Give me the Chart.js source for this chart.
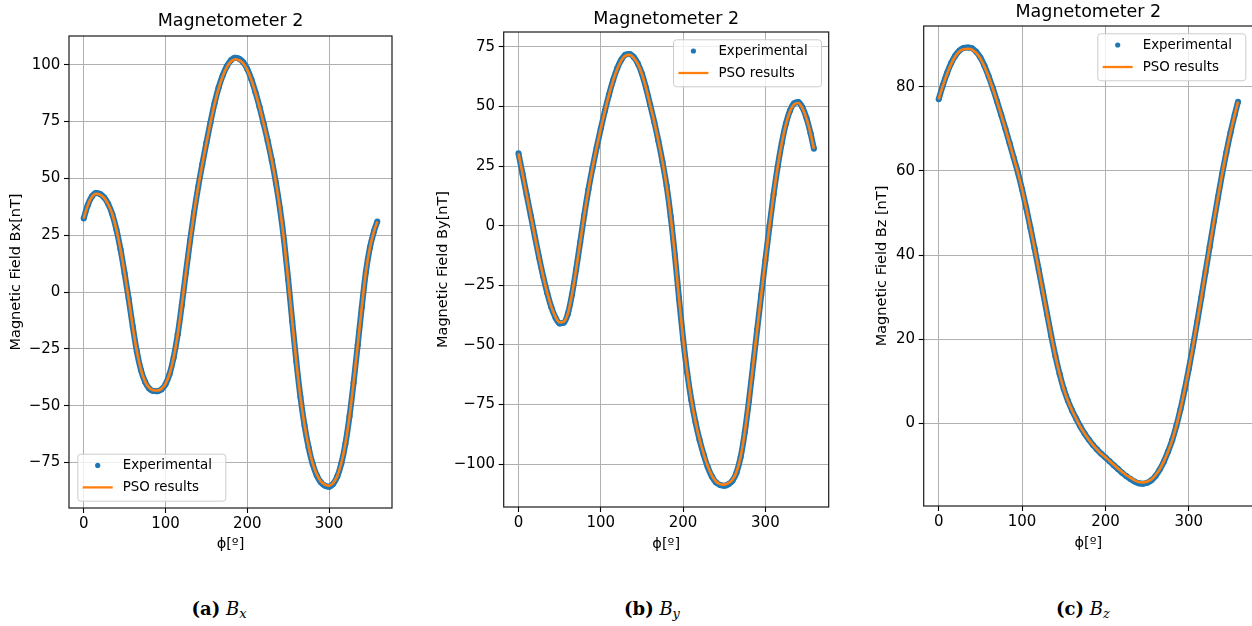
<!DOCTYPE html>
<html><head><meta charset="utf-8">
<script src="https://cdn.jsdelivr.net/npm/chart.js@4.4.1/dist/chart.umd.min.js"></script>
<style>
html,body{margin:0;padding:0;background:#fff;width:1252px;height:626px;overflow:hidden;position:relative;}
.panel{position:absolute;top:0;height:560px;}
.panel canvas{display:block;}
.cap{position:absolute;top:598px;line-height:22px;font-family:'DejaVu Serif',serif;font-size:18px;color:#000;white-space:nowrap;transform:translateX(-50%);}
.cap i.s{font-size:13px;position:relative;top:3px;}
</style></head>
<body>
<div class="panel" style="left:0;width:420px"><canvas id="ca" width="420" height="560"></canvas></div>
<div class="panel" style="left:420px;width:420px"><canvas id="cb" width="420" height="560"></canvas></div>
<div class="panel" style="left:840px;width:422px"><canvas id="cc" width="422" height="560"></canvas></div>
<div class="cap" style="left:219px"><b>(a)</b> <i>B</i><i class="s">x</i></div>
<div class="cap" style="left:652px"><b>(b)</b> <i>B</i><i class="s">y</i></div>
<div class="cap" style="left:1083px"><b>(c)</b> <i>B</i><i class="s">z</i></div>
<script>
// ---- data ----
const phi = [0,5,10,15,20,25,30,35,40,45,50,55,60,65,70,75,80,85,90,95,100,105,110,115,120,125,130,135,140,145,150,155,160,165,170,175,180,185,190,195,200,205,210,215,220,225,230,235,240,245,250,255,260,265,270,275,280,285,290,295,300,305,310,315,320,325,330,335,340,345,350,355,359];

const bxExp = [32.3,38.2,42.0,43.5,43.1,41.6,38.7,34.2,27.5,18.8,8.3,-3.0,-15.2,-26.2,-34.3,-39.5,-42.4,-43.5,-43.6,-42.9,-40.6,-36.1,-28.8,-18.6,-5.6,8.6,22.4,35.0,46.2,56.2,65.6,74.6,83.0,90.0,95.3,99.3,101.9,103.0,102.6,101.1,98.1,93.6,87.9,81.4,74.1,66.4,57.9,48.1,36.6,22.6,5.6,-12.9,-30.7,-46.2,-58.7,-68.4,-75.7,-80.7,-83.7,-85.2,-85.7,-84.4,-81.2,-75.4,-66.7,-54.7,-39.9,-23.4,-6.7,8.8,19.6,26.8,31.0];
const bxPso = [32.3,38.1,41.8,43.2,42.8,41.4,38.6,34.2,27.5,18.8,8.3,-3.0,-15.2,-26.1,-34.1,-39.3,-42.1,-43.2,-43.3,-42.6,-40.4,-36.0,-28.8,-18.6,-5.6,8.6,22.4,35.0,46.2,56.1,65.4,74.4,82.7,89.6,94.9,98.9,101.4,102.4,102.0,100.6,97.7,93.3,87.7,81.3,74.1,66.4,57.9,48.1,36.6,22.6,5.6,-12.9,-30.7,-46.1,-58.5,-68.1,-75.4,-80.3,-83.3,-84.7,-85.2,-84.0,-80.9,-75.2,-66.6,-54.7,-39.9,-23.4,-6.7,8.8,19.6,26.8,31.0];

const byExp = [30.3,21.6,12.8,4.1,-4.7,-13.3,-21.3,-28.3,-34.3,-38.6,-41.0,-40.7,-37.0,-29.0,-18.5,-7.0,4.6,15.1,24.3,32.8,40.7,48.1,54.9,61.0,66.0,69.6,71.7,72.0,70.7,68.0,63.7,57.7,50.7,43.5,35.5,26.7,16.7,3.7,-12.3,-30.3,-47.3,-61.6,-73.1,-82.3,-89.8,-96.0,-101.3,-105.2,-107.7,-108.8,-109.1,-108.5,-107.0,-103.5,-97.0,-86.7,-73.5,-58.7,-43.7,-29.0,-14.5,-0.2,13.1,24.8,34.8,42.8,48.3,51.3,51.8,49.6,45.1,38.6,32.2];
const byPso = [30.3,21.6,12.8,4.1,-4.7,-13.3,-21.2,-28.2,-34.1,-38.3,-40.6,-40.3,-36.8,-28.9,-18.5,-7.0,4.6,15.1,24.3,32.8,40.7,48.0,54.8,60.8,65.7,69.3,71.3,71.6,70.4,67.8,63.6,57.7,50.7,43.5,35.5,26.7,16.7,3.7,-12.3,-30.3,-47.3,-61.5,-72.9,-82.1,-89.6,-95.7,-100.9,-104.8,-107.3,-108.4,-108.6,-108.0,-106.6,-103.2,-96.8,-86.6,-73.5,-58.7,-43.7,-29.0,-14.5,-0.2,13.1,24.7,34.6,42.5,48.0,50.9,51.4,49.3,44.9,38.5,32.2];

const bzExp = [77.0,80.3,83.2,85.6,87.4,88.6,89.2,89.3,89.1,88.3,86.9,84.9,82.4,79.6,76.5,73.3,70.0,66.6,63.1,59.6,55.6,51.2,46.5,41.6,36.5,31.3,26.0,20.8,16.0,11.8,8.2,5.4,3.1,1.1,-0.8,-2.4,-3.8,-5.1,-6.2,-7.2,-8.1,-9.0,-9.9,-10.8,-11.7,-12.5,-13.2,-13.8,-14.2,-14.3,-14.1,-13.5,-12.5,-11.0,-9.1,-6.7,-4.0,-0.6,3.4,8.0,13.0,18.4,24.1,30.0,36.0,42.0,48.0,53.8,59.3,64.4,69.1,73.3,76.4];
const bzPso = [77.0,80.2,83.0,85.4,87.2,88.4,88.9,89.0,88.8,88.0,86.7,84.7,82.3,79.5,76.5,73.3,70.0,66.6,63.1,59.6,55.6,51.2,46.5,41.6,36.5,31.3,26.0,20.8,16.0,11.8,8.2,5.4,3.1,1.1,-0.8,-2.4,-3.8,-5.1,-6.2,-7.2,-8.0,-8.9,-9.8,-10.7,-11.5,-12.3,-12.9,-13.5,-13.9,-14.0,-13.8,-13.3,-12.3,-10.9,-9.0,-6.7,-4.0,-0.6,3.4,8.0,13.0,18.4,24.1,30.0,36.0,42.0,48.0,53.8,59.3,64.4,69.1,73.3,76.4];

const xTicks = [0,100,200,300];
const bxTicks = [-75,-50,-25,0,25,50,75,100];
const byTicks = [-100,-75,-50,-25,0,25,50,75];
const bzTicks = [0,20,40,60,80];

const titleText = 'Magnetometer 2';
const xLabel = 'ϕ[º]';
const seriesNames = ['Experimental','PSO results'];

// ---- rendering ----
Chart.defaults.font.family = "'DejaVu Sans'";
Chart.defaults.color = '#000';

const BLUE = '#1f77b4', ORANGE = '#ff7f0e';

const frameLegend = {
  id: 'frameLegend',
  afterDraw(chart, args, opts) {
    const ctx = chart.ctx, a = chart.chartArea;
    ctx.save();
    ctx.strokeStyle = '#1a1a1a';
    ctx.lineWidth = 1.2;
    ctx.strokeRect(a.left, a.top, a.right - a.left, a.bottom - a.top);
    const w = 148, h = 47;
    let x, y;
    if (opts.corner === 'll') { x = a.left + 8.3; y = a.bottom - 7.3 - h; }
    else { x = a.right - 7.7 - w; y = a.top + 7.3; }
    ctx.beginPath();
    if (ctx.roundRect) ctx.roundRect(x + 0.5, y + 0.5, w, h, 3); else ctx.rect(x + 0.5, y + 0.5, w, h);
    ctx.fillStyle = 'rgba(255,255,255,0.8)';
    ctx.fill();
    ctx.strokeStyle = '#cccccc';
    ctx.lineWidth = 1;
    ctx.stroke();
    const ds = chart.data.datasets;
    ctx.font = "13.4px 'DejaVu Sans'";
    ctx.textBaseline = 'middle';
    ctx.textAlign = 'left';
    ctx.fillStyle = BLUE;
    ctx.beginPath(); ctx.arc(x + 20.4, y + 11.7, 2.6, 0, Math.PI * 2); ctx.fill();
    ctx.fillStyle = '#000';
    ctx.fillText(ds[0].label, x + 45.4, y + 12.2);
    ctx.strokeStyle = ORANGE; ctx.lineWidth = 2.3;
    ctx.beginPath(); ctx.moveTo(x + 5.4, y + 33.7); ctx.lineTo(x + 35.4, y + 33.7); ctx.stroke();
    ctx.fillStyle = '#000';
    ctx.fillText(ds[1].label, x + 45.4, y + 34.2);
    ctx.restore();
  }
};

function fmt(v) { return v < 0 ? '\u2212' + Math.abs(v) : String(v); }

function makeChart(id, cfg) {
  const expPts = phi.map((p, i) => ({x: p, y: cfg.exp[i]}));
  const psoPts = phi.map((p, i) => ({x: p, y: cfg.pso[i]}));
  return new Chart(document.getElementById(id), {
    type: 'scatter',
    data: {
      datasets: [
        {label: seriesNames[0], data: expPts, showLine: true, borderColor: BLUE, borderWidth: 6,
         backgroundColor: BLUE, pointRadius: 3, pointBorderWidth: 0, pointBackgroundColor: BLUE,
         cubicInterpolationMode: 'monotone', order: 2},
        {label: seriesNames[1], data: psoPts, showLine: true, borderColor: ORANGE, borderWidth: 2.6,
         pointRadius: 0, cubicInterpolationMode: 'monotone', order: 1}
      ]
    },
    options: {
      responsive: false, animation: false, devicePixelRatio: 1,
      layout: {padding: cfg.pad},
      plugins: {
        legend: {display: false},
        tooltip: {enabled: false},
        title: {display: true, text: titleText, fullSize: false, color: '#000',
                font: {size: 17.5, weight: 'normal'}, padding: cfg.titlePad},
        frameLegend: {corner: cfg.corner}
      },
      scales: {
        x: {
          type: 'linear', min: -17.95, max: 376.95,
          afterBuildTicks: s => { s.ticks = xTicks.map(v => ({value: v})); },
          afterFit: s => { s.height = 46; },
          ticks: {font: {size: 15}, padding: 2, maxRotation: 0, autoSkip: false, color: '#000',
                  callback: v => fmt(v)},
          grid: {color: '#b0b0b0', lineWidth: 1, tickLength: 5, tickColor: '#000', tickWidth: 1.1},
          border: {display: false},
          title: {display: true, text: xLabel, font: {size: 14.5}, color: '#000',
                  padding: {top: 0, bottom: cfg.xTitleB}}
        },
        y: {
          type: 'linear', min: cfg.ymin, max: cfg.ymax,
          afterBuildTicks: s => { s.ticks = cfg.ticks.map(v => ({value: v})); },
          afterFit: s => { s.width = cfg.yW; },
          ticks: {font: {size: 15}, padding: 3.7, color: '#000', callback: v => fmt(v)},
          grid: {color: '#b0b0b0', lineWidth: 1, tickLength: 5, tickColor: '#000', tickWidth: 1.1},
          border: {display: false},
          title: {display: true, text: cfg.ylabel, font: {size: 14.5}, color: '#000',
                  padding: {top: cfg.yTitleT, bottom: 0}}
        }
      }
    },
    plugins: [frameLegend]
  });
}

makeChart('ca', {exp: bxExp, pso: bxPso, ticks: bxTicks, ymin: -95, ymax: 112.6,
  ylabel: 'Magnetic Field Bx[nT]', corner: 'll', yW: 69, yTitleT: 7.6, xTitleB: 0.8,
  pad: {left: 0, right: 28, top: 0, bottom: 6}, titlePad: {top: 11.3, bottom: 3.7}});
makeChart('cb', {exp: byExp, pso: byPso, ticks: byTicks, ymin: -118, ymax: 81.2,
  ylabel: 'Magnetic Field By[nT]', corner: 'ur', yW: 83.7, yTitleT: 14.3, xTitleB: 0,
  pad: {left: 0, right: 11.3, top: 0, bottom: 7}, titlePad: {top: 9, bottom: 2}});
makeChart('cc', {exp: bzExp, pso: bzPso, ticks: bzTicks, ymin: -19.6, ymax: 94.4,
  ylabel: 'Magnetic Field Bz [nT]', corner: 'ur', yW: 83.7, yTitleT: 33.3, xTitleB: 0,
  pad: {left: 0, right: 9, top: 0, bottom: 8}, titlePad: {top: 2.3, bottom: 2.7}});
</script>
</body></html>
